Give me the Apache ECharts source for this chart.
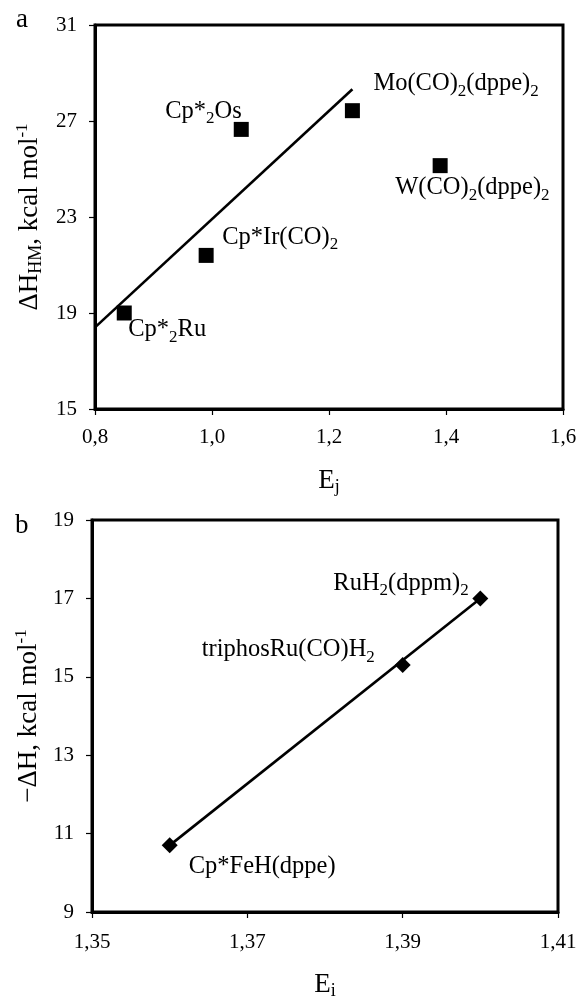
<!DOCTYPE html>
<html>
<head>
<meta charset="utf-8">
<script src="https://cdn.jsdelivr.net/npm/echarts@6/dist/echarts.min.js"></script>
<style>
html,body{margin:0;padding:0;background:#fff;}
#c{width:579px;height:998px;}
</style>
</head>
<body>
<div id="c"></div>
<script>
// ---- Data: panel a ----
const topLabels = ['Cp*{s|2}Ru', 'Cp*Ir(CO){s|2}', 'Cp*{s|2}Os', 'Mo(CO){s|2}(dppe){s|2}', 'W(CO){s|2}(dppe){s|2}'];
const topEj = [0.85, 0.99, 1.05, 1.24, 1.39];
const topDH = [19.0, 21.4, 26.65, 27.43, 25.14];
const topFitEj = [0.8, 1.24];
const topFitDH = [18.4, 28.32];
const topXTicks = [0.8, 1.0, 1.2, 1.4, 1.6];
const topYTicks = [15, 19, 23, 27, 31];

// ---- Data: panel b ----
const botLabels = ['Cp*FeH(dppe)', 'triphosRu(CO)H{s|2}', 'RuH{s|2}(dppm){s|2}'];
const botEi = [1.36, 1.39, 1.40];
const botDH = [10.7, 15.3, 17.0];
const botFitEi = [1.36, 1.40];
const botFitDH = [10.7, 17.0];
const botXTicks = [1.35, 1.37, 1.39, 1.41];
const botYTicks = [9, 11, 13, 15, 17, 19];

// ---- Label placement (styles) ----
const topLabelOffsets = [[4, 17], [16, -18], [-76, -18], [21, -27], [-45, 22]];
const botLabelOffsets = [[19, 21], [-201, -15], [-147, -15]];

const FF = "'Liberation Serif', 'Times New Roman', serif";
const rich = {
  n: {fontSize: 24.5, fontFamily: FF, color: '#000', verticalAlign: 'middle', lineHeight: 32},
  s: {fontSize: 17, fontFamily: FF, color: '#000', verticalAlign: 'bottom'}
};
const nameRich = {
  n: {fontSize: 27, fontFamily: FF, color: '#000', verticalAlign: 'middle', lineHeight: 31},
  s: {fontSize: 18, fontFamily: FF, color: '#000', verticalAlign: 'bottom'},
  p: {fontSize: 17, fontFamily: FF, color: '#000', verticalAlign: 'top'}
};
const comma = (d) => (v) => v.toFixed(d).replace('.', ',');

function wrapRich(str) {
  return str.split(/(\{s\|[^}]*\})/).filter(t => t.length).map(t => t.startsWith('{s|') ? t : '{n|' + t + '}').join('');
}

function pointData(xs, ys, labels, offsets) {
  return xs.map((x, i) => ({
    value: [x, ys[i]],
    label: {
      show: true,
      position: 'inside',
      align: 'left',
      verticalAlign: 'middle',
      offset: offsets[i],
      formatter: wrapRich(labels[i]),
      rich: rich
    }
  }));
}

function axisCommon(ticks, fmt, margin) {
  return {
    min: ticks[0],
    max: ticks[ticks.length - 1],
    interval: ticks[1] - ticks[0],
    axisLine: {show: true, onZero: false, lineStyle: {color: '#000', width: 3}},
    axisTick: {show: true, inside: false, length: 6, lineStyle: {color: '#000', width: 1.2}},
    axisLabel: {fontSize: 21, fontFamily: FF, color: '#000', margin: margin, formatter: fmt},
    splitLine: {show: false}
  };
}

const chart = echarts.init(document.getElementById('c'));
chart.setOption({
  backgroundColor: '#fff',
  animation: false,
  title: [
    {text: 'a', left: 11, top: 1, textStyle: {fontSize: 27, fontWeight: 'normal', fontFamily: FF, color: '#000'}},
    {text: 'b', left: 10, top: 507, textStyle: {fontSize: 27, fontWeight: 'normal', fontFamily: FF, color: '#000'}}
  ],
  grid: [
    {left: 95, top: 25, width: 468, height: 384, show: true, borderColor: '#000', borderWidth: 3, backgroundColor: 'transparent', containLabel: false, outerBoundsMode: 'none'},
    {left: 92, top: 520, width: 466, height: 392, show: true, borderColor: '#000', borderWidth: 3, backgroundColor: 'transparent', containLabel: false, outerBoundsMode: 'none'}
  ],
  xAxis: [
    Object.assign(axisCommon(topXTicks, comma(1), 18), {
      gridIndex: 0, type: 'value',
      name: '{n|E}{s|j}', nameLocation: 'middle', nameGap: 56,
      nameTextStyle: {rich: nameRich}
    }),
    Object.assign(axisCommon(botXTicks, comma(2), 20), {
      gridIndex: 1, type: 'value',
      name: '{n|E}{s|i}', nameLocation: 'middle', nameGap: 57,
      nameTextStyle: {rich: nameRich}
    })
  ],
  yAxis: [
    Object.assign(axisCommon(topYTicks, (v) => String(v), 18), {
      gridIndex: 0, type: 'value',
      name: '{n|ΔH}{s|HM}{n|, kcal mol}{p|-1}', nameLocation: 'middle', nameGap: 48,
      nameTextStyle: {rich: nameRich}
    }),
    Object.assign(axisCommon(botYTicks, (v) => String(v), 18), {
      gridIndex: 1, type: 'value',
      name: '{n|−ΔH, kcal mol}{p|-1}', nameLocation: 'middle', nameGap: 46,
      nameTextStyle: {rich: nameRich}
    })
  ],
  series: [
    {
      type: 'line', xAxisIndex: 0, yAxisIndex: 0,
      data: topFitEj.map((x, i) => [x, topFitDH[i]]),
      symbol: 'none', lineStyle: {color: '#000', width: 2.6}, silent: true, z: 2
    },
    {
      type: 'scatter', xAxisIndex: 0, yAxisIndex: 0,
      data: pointData(topEj, topDH, topLabels, topLabelOffsets),
      symbol: 'rect', symbolSize: 15, itemStyle: {color: '#000', opacity: 1}, z: 3
    },
    {
      type: 'line', xAxisIndex: 1, yAxisIndex: 1,
      data: botFitEi.map((x, i) => [x, botFitDH[i]]),
      symbol: 'none', lineStyle: {color: '#000', width: 2.6}, silent: true, z: 2
    },
    {
      type: 'scatter', xAxisIndex: 1, yAxisIndex: 1,
      data: pointData(botEi, botDH, botLabels, botLabelOffsets),
      symbol: 'diamond', symbolSize: 16, itemStyle: {color: '#000', opacity: 1}, z: 3
    }
  ]
});
</script>
</body>
</html>
